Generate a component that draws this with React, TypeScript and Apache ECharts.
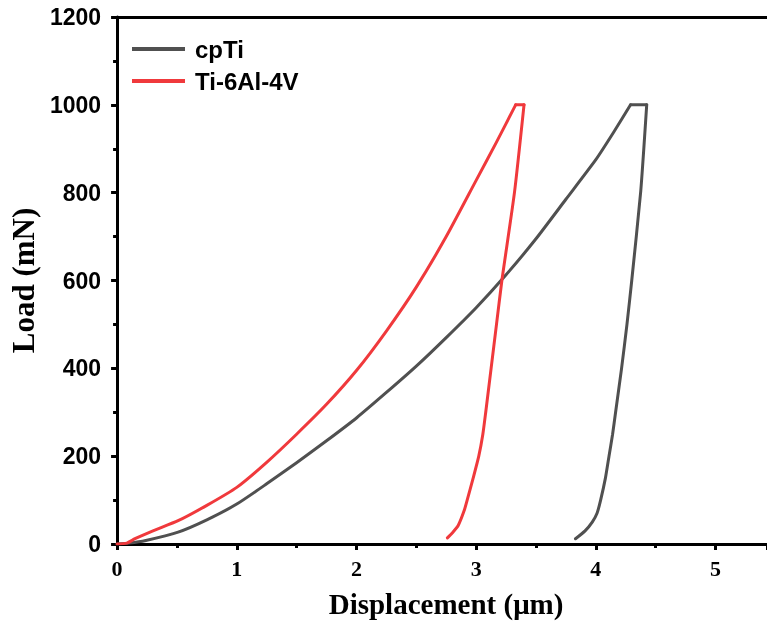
import React, { useEffect, useRef } from "react";
import * as echarts from "echarts";

const seriesNames = ["cpTi", "Ti-6Al-4V"];

// Displacement (µm) and load (mN)
const cpTiLoadX = [0, 0.1, 0.24, 0.51, 0.75, 1.0, 1.25, 1.5, 1.75, 2.0, 2.25, 2.5, 2.75, 3.0, 3.25, 3.5, 3.75, 4.0, 4.15, 4.29];
const cpTiLoadY = [0, 2, 8, 27, 55, 91, 137, 185, 235, 287, 345, 405, 470, 538, 613, 695, 785, 875, 938, 1000];
const cpTiHoldX = [4.29, 4.425];
const cpTiHoldY = [1000, 1000];
const cpTiUnloadX = [4.425, 4.375, 4.3, 4.26, 4.215, 4.165, 4.14, 4.11, 4.08, 4.04, 4.01, 3.97, 3.91, 3.83];
const cpTiUnloadY = [1000, 803, 600, 500, 400, 300, 250, 200, 150, 100, 70, 50, 30, 12];

const tiLoadX = [0, 0.08, 0.15, 0.3, 0.51, 0.75, 1.0, 1.25, 1.5, 1.75, 2.0, 2.25, 2.5, 2.75, 3.0, 3.17, 3.33];
const tiLoadY = [0, 2, 12, 30, 53, 88, 129, 186, 250, 318, 395, 485, 585, 700, 828, 915, 1000];
const tiHoldX = [3.33, 3.4];
const tiHoldY = [1000, 1000];
const tiUnloadX = [3.4, 3.32, 3.215, 3.17, 3.125, 3.08, 3.056, 3.022, 2.975, 2.925, 2.9, 2.85, 2.8, 2.76];
const tiUnloadY = [1000, 800, 600, 500, 400, 300, 250, 200, 150, 100, 76, 42, 25, 14];

const xTicks = [0, 1, 2, 3, 4, 5];
const yTicks = [0, 200, 400, 600, 800, 1000, 1200];

const colors = ["#505050", "#f0393c"];

export default function App() {
  const ref = useRef<HTMLDivElement>(null);
  useEffect(() => {
    if (!ref.current) return;
    const chart = echarts.init(ref.current, null, { renderer: "svg" });
    const zip = (xs: number[], ys: number[]) => xs.map((x, i) => [x, ys[i]]);
    const mk = (name: string, color: string, xs: number[], ys: number[], smooth: number | boolean) => ({
      name,
      type: "line",
      data: zip(xs, ys),
      symbol: "none",
      smooth,
      lineStyle: { color, width: 3, join: "round", cap: "round" },
      itemStyle: { color },
    });
    const tickLine = { width: 3, color: "#000" };
    chart.setOption({
      animation: false,
      grid: { left: 115, right: 0, top: 17, bottom: 90 },
      legend: {
        orient: "vertical",
        left: 127,
        top: 32,
        icon: "rect",
        itemWidth: 53,
        itemHeight: 4,
        itemGap: 8,
        data: seriesNames,
        textStyle: {
          fontFamily: "Liberation Sans",
          fontWeight: "bold",
          fontSize: 24,
          color: "#000",
          lineHeight: 24,
          padding: [0, 0, 0, 5],
        },
      },
      xAxis: [
        {
          type: "value",
          min: 0,
          max: 5.43,
          interval: 1,
          name: "Displacement (\u03bcm)",
          nameLocation: "middle",
          nameGap: 45,
          nameTextStyle: {
            fontFamily: "Liberation Serif",
            fontWeight: "bold",
            fontSize: 29,
            color: "#000",
            padding: [0, 0, 0, 8],
          },
          axisLine: { lineStyle: { color: "#000", width: 3 } },
          axisTick: { length: 6, lineStyle: tickLine },
          minorTick: { show: true, splitNumber: 2, length: 4, lineStyle: tickLine },
          splitLine: { show: false },
          axisLabel: {
            margin: 13,
            fontFamily: "Liberation Serif",
            fontWeight: "bold",
            fontSize: 22,
            color: "#000",
            showMaxLabel: false,
            formatter: (v: number) => (xTicks.includes(v) ? String(v) : ""),
          },
        },
        {
          type: "value",
          position: "top",
          min: 0,
          max: 5.43,
          interval: 1,
          axisLine: { show: true, onZero: false, lineStyle: { color: "#000", width: 3 } },
          axisTick: { show: false },
          axisLabel: { show: false },
          splitLine: { show: false },
        },
      ],
      yAxis: {
        type: "value",
        min: 0,
        max: 1200,
        interval: 200,
        name: "Load (mN)",
        nameLocation: "middle",
        nameGap: 72,
        nameTextStyle: { fontFamily: "Liberation Serif", fontWeight: "bold", fontSize: 31, color: "#000" },
        axisLine: { show: true, lineStyle: { color: "#000", width: 3 } },
        axisTick: { show: true, length: 6, lineStyle: tickLine },
        minorTick: { show: true, splitNumber: 2, length: 4, lineStyle: tickLine },
        splitLine: { show: false },
        axisLabel: {
          margin: 16,
          fontFamily: "Liberation Sans",
          fontWeight: "bold",
          fontSize: 23,
          color: "#000",
          formatter: (v: number) => (yTicks.includes(v) ? String(v) : ""),
        },
      },
      series: [
        mk(seriesNames[0], colors[0], cpTiLoadX, cpTiLoadY, 0.2),
        mk(seriesNames[0], colors[0], cpTiHoldX, cpTiHoldY, false),
        mk(seriesNames[0], colors[0], cpTiUnloadX, cpTiUnloadY, 0.2),
        mk(seriesNames[1], colors[1], tiLoadX, tiLoadY, 0.2),
        mk(seriesNames[1], colors[1], tiHoldX, tiHoldY, false),
        mk(seriesNames[1], colors[1], tiUnloadX, tiUnloadY, 0.2),
      ],
    });
    return () => chart.dispose();
  }, []);
  return <div ref={ref} style={{ position: "fixed", left: 0, top: 0, width: 767, height: 634 }} />;
}
